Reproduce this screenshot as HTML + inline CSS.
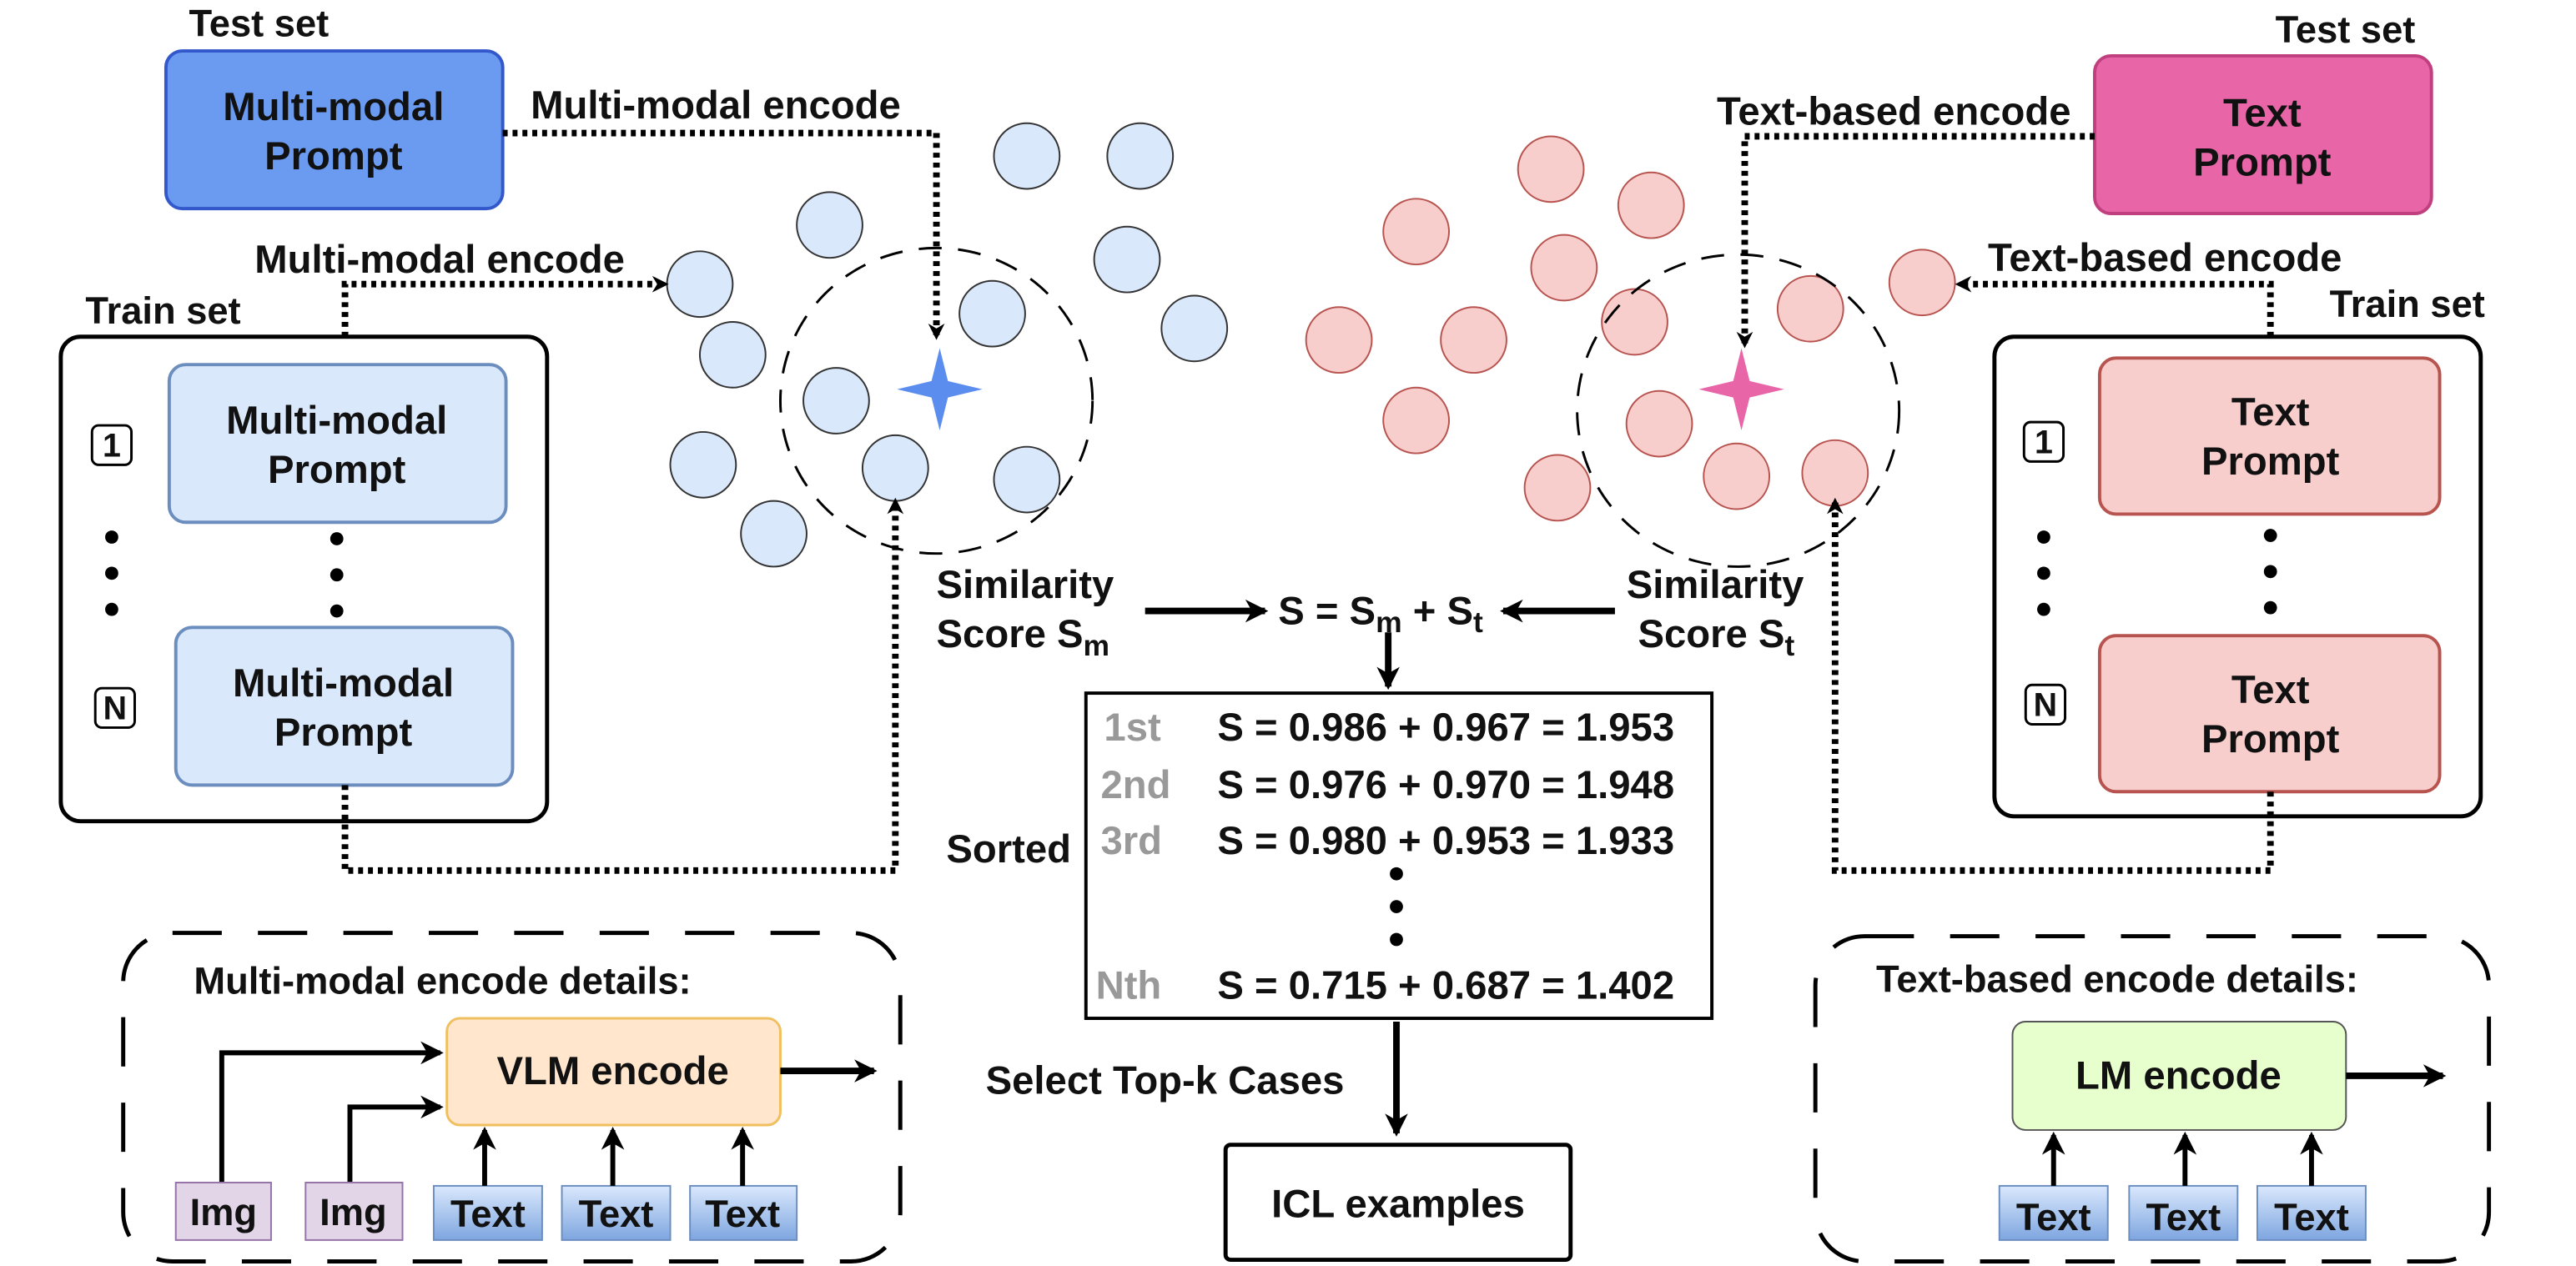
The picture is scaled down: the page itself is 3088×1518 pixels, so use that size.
<!DOCTYPE html>
<html><head><meta charset="utf-8"><style>
html,body{margin:0;padding:0;background:#fff;}
svg{display:block;}
text{font-family:"Liberation Sans",sans-serif;font-weight:bold;fill:#111;}
</style></head><body>
<svg width="3088" height="1518" viewBox="0 0 1544 759" xmlns="http://www.w3.org/2000/svg">
<defs>
<marker id="ah" markerWidth="10" markerHeight="10" refX="8" refY="5" orient="auto" markerUnits="userSpaceOnUse"><path d="M0,0 L10,5 L0,10 L3,5 z" fill="#000"/></marker>
<marker id="ahb" markerWidth="14" markerHeight="14" refX="12" refY="7" orient="auto" markerUnits="userSpaceOnUse"><path d="M0,0 L14,7 L0,14 L4,7 z" fill="#000"/></marker>
<linearGradient id="tg" x1="0" y1="0" x2="0" y2="1"><stop offset="0" stop-color="#dae8fc"/><stop offset="1" stop-color="#7ea6e0"/></linearGradient>
</defs>
<g transform="scale(0.9847)">
<!-- LEFT -->
<text x="115" y="22" font-size="23">Test set</text>
<rect x="101" y="31" width="205" height="96" rx="10" fill="#6a9bf0" stroke="#3358cc" stroke-width="2"/>
<text x="203" y="73" font-size="24" text-anchor="middle">Multi-modal</text>
<text x="203" y="103" font-size="24" text-anchor="middle">Prompt</text>
<text x="323" y="72" font-size="24">Multi-modal encode</text>
<polyline points="306,81 570,81 570,205" fill="none" stroke="#000" stroke-width="4" stroke-dasharray="3,3" marker-end="url(#ah)"/>

<g fill="#dae8fc" stroke="#333" stroke-width="1">
<circle cx="625" cy="95" r="20"/><circle cx="694" cy="95" r="20"/><circle cx="505" cy="137" r="20"/>
<circle cx="686" cy="158" r="20"/><circle cx="426" cy="173" r="20"/><circle cx="604" cy="191" r="20"/>
<circle cx="727" cy="200" r="20"/><circle cx="446" cy="216" r="20"/><circle cx="509" cy="244" r="20"/>
<circle cx="428" cy="283" r="20"/><circle cx="545" cy="285" r="20"/><circle cx="625" cy="292" r="20"/>
<circle cx="471" cy="325" r="20"/>
</g>
<ellipse cx="570" cy="244" rx="95" ry="93" fill="none" stroke="#000" stroke-width="1.5" stroke-dasharray="14,10"/>
<path d="M572,212 L577,232 L598,237 L577,242 L572,262 L567,242 L546,237 L567,232 z" fill="#5b8def"/>

<text x="155" y="166" font-size="24">Multi-modal encode</text>
<polyline points="210,205 210,173 405,173" fill="none" stroke="#000" stroke-width="4" stroke-dasharray="3,3" marker-end="url(#ah)"/>
<text x="52" y="197" font-size="23">Train set</text>
<rect x="37" y="205" width="296" height="295" rx="12" fill="none" stroke="#000" stroke-width="2.5"/>
<rect x="103" y="222" width="205" height="96" rx="10" fill="#dae8fc" stroke="#6c8ebf" stroke-width="2"/>
<text x="205" y="264" font-size="24" text-anchor="middle">Multi-modal</text>
<text x="205" y="294" font-size="24" text-anchor="middle">Prompt</text>
<rect x="107" y="382" width="205" height="96" rx="10" fill="#dae8fc" stroke="#6c8ebf" stroke-width="2"/>
<text x="209" y="424" font-size="24" text-anchor="middle">Multi-modal</text>
<text x="209" y="454" font-size="24" text-anchor="middle">Prompt</text>
<rect x="56" y="259" width="24" height="24" rx="4" fill="#fff" stroke="#000" stroke-width="1.5"/><text x="68" y="278" font-size="20" text-anchor="middle">1</text>
<rect x="58" y="419" width="24" height="24" rx="4" fill="#fff" stroke="#000" stroke-width="1.5"/><text x="70" y="438" font-size="20" text-anchor="middle">N</text>
<g fill="#000"><circle cx="68" cy="327" r="4"/><circle cx="68" cy="349" r="4"/><circle cx="68" cy="371" r="4"/>
<circle cx="205" cy="328" r="4"/><circle cx="205" cy="350" r="4"/><circle cx="205" cy="372" r="4"/></g>
<polyline points="210,478 210,530 545,530 545,305" fill="none" stroke="#000" stroke-width="4" stroke-dasharray="3,3" marker-end="url(#ah)"/>

<!-- CENTER -->
<text x="570" y="364" font-size="24">Similarity</text>
<text x="570" y="394" font-size="24">Score S<tspan font-size="18" dy="5">m</tspan></text>
<line x1="697" y1="372" x2="770" y2="372" stroke="#000" stroke-width="4" marker-end="url(#ahb)"/>
<text x="778" y="380" font-size="24">S = S<tspan font-size="18" dy="5">m</tspan><tspan dy="-5"> + S</tspan><tspan font-size="18" dy="5">t</tspan></text>
<line x1="983" y1="372" x2="915" y2="372" stroke="#000" stroke-width="4" marker-end="url(#ahb)"/>
<text x="990" y="364" font-size="24">Similarity</text>
<text x="997" y="394" font-size="24">Score S<tspan font-size="18" dy="5">t</tspan></text>
<line x1="845" y1="385" x2="845" y2="418" stroke="#000" stroke-width="4" marker-end="url(#ahb)"/>
<rect x="661" y="422" width="381" height="198" fill="#fff" stroke="#000" stroke-width="2"/>
<g font-size="24">
<text x="672" y="451" style="fill:#999">1st</text><text x="741" y="451">S = 0.986 + 0.967 = 1.953</text>
<text x="670" y="486" style="fill:#999">2nd</text><text x="741" y="486">S = 0.976 + 0.970 = 1.948</text>
<text x="670" y="520" style="fill:#999">3rd</text><text x="741" y="520">S = 0.980 + 0.953 = 1.933</text>
<text x="667" y="608" style="fill:#999">Nth</text><text x="741" y="608">S = 0.715 + 0.687 = 1.402</text>
</g>
<g fill="#000"><circle cx="850" cy="532" r="4"/><circle cx="850" cy="552" r="4"/><circle cx="850" cy="572" r="4"/></g>
<text x="576" y="525" font-size="24">Sorted</text>
<line x1="850" y1="622" x2="850" y2="690" stroke="#000" stroke-width="4" marker-end="url(#ahb)"/>
<text x="600" y="666" font-size="24">Select Top-k Cases</text>
<rect x="746" y="697" width="210" height="70" rx="3" fill="#fff" stroke="#000" stroke-width="2.5"/>
<text x="851" y="741" font-size="24" text-anchor="middle">ICL examples</text>

<!-- RIGHT -->
<text x="1385" y="26" font-size="23">Test set</text>
<rect x="1275" y="34" width="205" height="96" rx="10" fill="#e865a8" stroke="#c0407f" stroke-width="2"/>
<text x="1377" y="77" font-size="24" text-anchor="middle">Text</text>
<text x="1377" y="107" font-size="24" text-anchor="middle">Prompt</text>
<text x="1045" y="76" font-size="24">Text-based encode</text>
<polyline points="1275,83 1062,83 1062,210" fill="none" stroke="#000" stroke-width="4" stroke-dasharray="3,3" marker-end="url(#ah)"/>
<g fill="#f8cecc" stroke="#b85450" stroke-width="1">
<circle cx="944" cy="103" r="20"/><circle cx="1005" cy="125" r="20"/><circle cx="862" cy="141" r="20"/>
<circle cx="952" cy="163" r="20"/><circle cx="995" cy="196" r="20"/><circle cx="1102" cy="188" r="20"/>
<circle cx="1170" cy="172" r="20"/><circle cx="815" cy="207" r="20"/><circle cx="897" cy="207" r="20"/>
<circle cx="1010" cy="258" r="20"/><circle cx="862" cy="256" r="20"/><circle cx="1057" cy="290" r="20"/>
<circle cx="948" cy="297" r="20"/><circle cx="1117" cy="288" r="20"/>
</g>
<ellipse cx="1058" cy="250" rx="98" ry="95" fill="none" stroke="#000" stroke-width="1.5" stroke-dasharray="14,10"/>
<path d="M1060,212 L1065,232 L1086,237 L1065,242 L1060,262 L1055,242 L1034,237 L1055,232 z" fill="#e865a8"/>
<text x="1210" y="165" font-size="24">Text-based encode</text>
<polyline points="1382,205 1382,173 1192,173" fill="none" stroke="#000" stroke-width="4" stroke-dasharray="3,3" marker-end="url(#ah)"/>
<text x="1418" y="193" font-size="23">Train set</text>
<rect x="1214" y="205" width="296" height="292" rx="12" fill="none" stroke="#000" stroke-width="2.5"/>
<rect x="1278" y="218" width="207" height="95" rx="10" fill="#f8cecc" stroke="#b85450" stroke-width="2"/>
<text x="1382" y="259" font-size="24" text-anchor="middle">Text</text>
<text x="1382" y="289" font-size="24" text-anchor="middle">Prompt</text>
<rect x="1278" y="387" width="207" height="95" rx="10" fill="#f8cecc" stroke="#b85450" stroke-width="2"/>
<text x="1382" y="428" font-size="24" text-anchor="middle">Text</text>
<text x="1382" y="458" font-size="24" text-anchor="middle">Prompt</text>
<rect x="1232" y="257" width="24" height="24" rx="4" fill="#fff" stroke="#000" stroke-width="1.5"/><text x="1244" y="276" font-size="20" text-anchor="middle">1</text>
<rect x="1233" y="417" width="24" height="24" rx="4" fill="#fff" stroke="#000" stroke-width="1.5"/><text x="1245" y="436" font-size="20" text-anchor="middle">N</text>
<g fill="#000"><circle cx="1244" cy="327" r="4"/><circle cx="1244" cy="349" r="4"/><circle cx="1244" cy="371" r="4"/>
<circle cx="1382" cy="326" r="4"/><circle cx="1382" cy="348" r="4"/><circle cx="1382" cy="370" r="4"/></g>
<polyline points="1382,482 1382,530 1117,530 1117,305" fill="none" stroke="#000" stroke-width="4" stroke-dasharray="3,3" marker-end="url(#ah)"/>

<!-- BOTTOM LEFT DETAILS -->
<rect x="75" y="568" width="473" height="200" rx="30" fill="none" stroke="#000" stroke-width="2.5" stroke-dasharray="30,22"/>
<text x="118" y="605" font-size="23">Multi-modal encode details:</text>
<rect x="272" y="620" width="203" height="65" rx="8" fill="#ffe6cc" stroke="#f0c060" stroke-width="1.5"/>
<text x="373" y="660" font-size="24" text-anchor="middle">VLM encode</text>
<polyline points="135,720 135,641 268,641" fill="none" stroke="#000" stroke-width="3" marker-end="url(#ahb)"/>
<polyline points="213,720 213,674 268,674" fill="none" stroke="#000" stroke-width="3" marker-end="url(#ahb)"/>
<line x1="475" y1="652" x2="532" y2="652" stroke="#000" stroke-width="4" marker-end="url(#ahb)"/>
<rect x="107" y="720" width="58" height="35" fill="#e1d5e7" stroke="#9673a6"/><text x="136" y="746" font-size="23" text-anchor="middle">Img</text>
<rect x="186" y="720" width="59" height="35" fill="#e1d5e7" stroke="#9673a6"/><text x="215" y="746" font-size="23" text-anchor="middle">Img</text>
<g stroke="#6c8ebf"><rect x="264" y="722" width="66" height="33" fill="url(#tg)"/><rect x="342" y="722" width="66" height="33" fill="url(#tg)"/><rect x="420" y="722" width="65" height="33" fill="url(#tg)"/></g>
<text x="297" y="747" font-size="23" text-anchor="middle">Text</text><text x="375" y="747" font-size="23" text-anchor="middle">Text</text><text x="452" y="747" font-size="23" text-anchor="middle">Text</text>
<g stroke="#000" stroke-width="3"><line x1="295" y1="722" x2="295" y2="688" marker-end="url(#ahb)"/><line x1="373" y1="722" x2="373" y2="688" marker-end="url(#ahb)"/><line x1="452" y1="722" x2="452" y2="688" marker-end="url(#ahb)"/></g>

<!-- BOTTOM RIGHT DETAILS -->
<rect x="1105" y="570" width="410" height="198" rx="30" fill="none" stroke="#000" stroke-width="2.5" stroke-dasharray="30,22"/>
<text x="1142" y="604" font-size="23">Text-based encode details:</text>
<rect x="1225" y="622" width="203" height="66" rx="8" fill="#e6ffcc" stroke="#555" stroke-width="1"/>
<text x="1326" y="663" font-size="24" text-anchor="middle">LM encode</text>
<line x1="1428" y1="655" x2="1487" y2="655" stroke="#000" stroke-width="4" marker-end="url(#ahb)"/>
<g stroke="#6c8ebf"><rect x="1217" y="722" width="66" height="33" fill="url(#tg)"/><rect x="1296" y="722" width="66" height="33" fill="url(#tg)"/><rect x="1374" y="722" width="66" height="33" fill="url(#tg)"/></g>
<text x="1250" y="749" font-size="23" text-anchor="middle">Text</text><text x="1329" y="749" font-size="23" text-anchor="middle">Text</text><text x="1407" y="749" font-size="23" text-anchor="middle">Text</text>
<g stroke="#000" stroke-width="3"><line x1="1250" y1="722" x2="1250" y2="691" marker-end="url(#ahb)"/><line x1="1330" y1="722" x2="1330" y2="691" marker-end="url(#ahb)"/><line x1="1407" y1="722" x2="1407" y2="691" marker-end="url(#ahb)"/></g>
</g>
</svg>
</body></html>
